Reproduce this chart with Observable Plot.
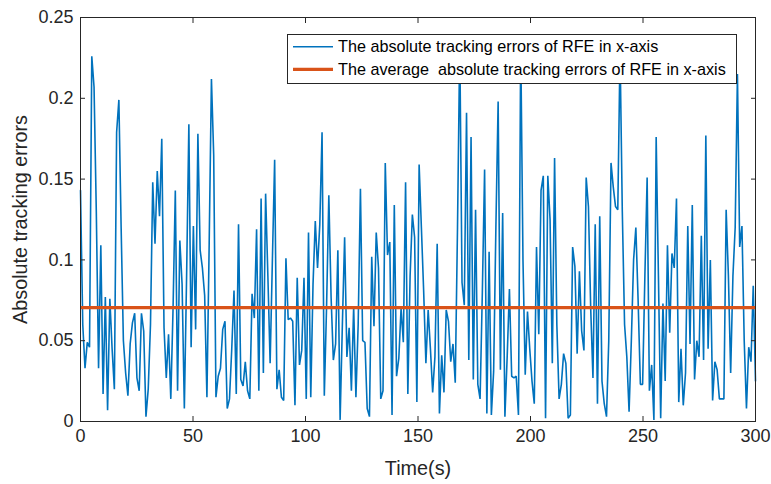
<!DOCTYPE html>
<html>
<head>
<meta charset="utf-8">
<script src="https://cdn.jsdelivr.net/npm/d3@7"></script>
<script src="https://cdn.jsdelivr.net/npm/@observablehq/plot@0.6"></script>
<style>
  html, body { margin: 0; padding: 0; background: #fff; }
  #wrap { position: relative; width: 771px; height: 484px; font-family: "Liberation Sans", Arial, Helvetica, sans-serif; }
  #legend { position: absolute; left: 287px; top: 34px; }
</style>
</head>
<body>
<div id="wrap">
  <div id="chart"></div>
  <svg id="legend" width="450" height="50"></svg>
</div>
<script>
// ---- data ----
const xTicks = [0, 50, 100, 150, 200, 250, 300];
const yTicks = [0, 0.05, 0.1, 0.15, 0.2, 0.25];
const yTickLabels = ["0", "0.05", "0.1", "0.15", "0.2", "0.25"];
const timeSpan = 300;               // seconds shown on the x-axis
const averageError = 0.0705;        // average absolute tracking error (orange line)
const errorSeriesName = "The absolute tracking errors of RFE in x-axis";
const averageSeriesName = "The average  absolute tracking errors of RFE in x-axis";
const absErrors = [
  0.143, 0.06, 0.033, 0.049, 0.046, 0.226, 0.207, 0.13, 0.033, 0.109,
  0.017, 0.077, 0.007, 0.076, 0.045, 0.020, 0.179, 0.199, 0.12, 0.05,
  0.03, 0.016, 0.048, 0.061, 0.067, 0.027, 0.019, 0.067, 0.056, 0.003,
  0.02, 0.06, 0.148, 0.110, 0.155, 0.127, 0.175, 0.058, 0.027, 0.054,
  0.014, 0.07, 0.143, 0.019, 0.112, 0.085, 0.008, 0.09, 0.184, 0.046,
  0.121, 0.057, 0.178, 0.106, 0.095, 0.078, 0.015, 0.11, 0.212, 0.165,
  0.015, 0.028, 0.033, 0.057, 0.062, 0.008, 0.014, 0.045, 0.081, 0.017,
  0.122, 0.026, 0.022, 0.037, 0.019, 0.014, 0.079, 0.064, 0.119, 0.019,
  0.138, 0.030, 0.141, 0.09, 0.036, 0.10, 0.162, 0.020, 0.032, 0.015,
  0.013, 0.101, 0.063, 0.064, 0.062, 0.010, 0.089, 0.035, 0.044, 0.089,
  0.014, 0.117, 0.015, 0.085, 0.124, 0.095, 0.122, 0.179, 0.016, 0.071,
  0.140, 0.077, 0.038, 0.048, 0.106, 0.001, 0.06, 0.114, 0.040, 0.058,
  0.019, 0.071, 0.015, 0.06, 0.144, 0.050, 0.049, 0.008, 0.003, 0.102,
  0.059, 0.117, 0.095, 0.014, 0.019, 0.160, 0.103, 0.111, 0.004, 0.134,
  0.028, 0.039, 0.07, 0.049, 0.148, 0.017, 0.09, 0.128, 0.114, 0.012,
  0.159, 0.12, 0.081, 0.036, 0.069, 0.045, 0.018, 0.040, 0.110, 0.005,
  0.041, 0.018, 0.069, 0.062, 0.037, 0.048, 0.024, 0.12, 0.235, 0.086,
  0.072, 0.191, 0.038, 0.176, 0.026, 0.131, 0.023, 0.014, 0.08, 0.156,
  0.005, 0.105, 0.004, 0.031, 0.12, 0.198, 0.032, 0.129, 0.003, 0.040,
  0.082, 0.028, 0.027, 0.028, 0.004, 0.235, 0.10, 0.029, 0.068, 0.045,
  0.025, 0.011, 0.108, 0.054, 0.143, 0.152, 0.002, 0.152, 0.125, 0.036,
  0.163, 0.06, 0.014, 0.023, 0.042, 0.036, 0.002, 0.004, 0.108, 0.096,
  0.042, 0.093, 0.056, 0.044, 0.151, 0.133, 0.07, 0.027, 0.122, 0.011,
  0.127, 0.025, 0.011, 0.003, 0.05, 0.160, 0.145, 0.133, 0.131, 0.23,
  0.13, 0.06, 0.04, 0.006, 0.05, 0.10, 0.120, 0.075, 0.023, 0.023,
  0.09, 0.151, 0.019, 0.035, 0.001, 0.176, 0.09, 0.002, 0.073, 0.025,
  0.109, 0.055, 0.104, 0.095, 0.138, 0.012, 0.045, 0.010, 0.03, 0.121,
  0.048, 0.134, 0.026, 0.05, 0.04, 0.115, 0.038, 0.177, 0.045, 0.100,
  0.013, 0.037, 0.032, 0.014, 0.014, 0.014, 0.131, 0.09, 0.030, 0.09,
  0.12, 0.215, 0.108, 0.121, 0.05, 0.008, 0.046, 0.037, 0.084, 0.025
];

const blue = "#0072BD";
const orange = "#D95319";
const axisColor = "#262626";
const step = timeSpan / (absErrors.length - 1);
const table = absErrors.map((v, i) => ({t: i * step, e: v}));

const chart = Plot.plot({
  width: 771,
  height: 484,
  marginLeft: 80,
  marginRight: 16,
  marginTop: 17,
  marginBottom: 63,
  style: {fontFamily: "'Liberation Sans', Arial, Helvetica, sans-serif", fontSize: "18px", color: axisColor, background: "#fff"},
  x: {domain: [0, timeSpan]},
  y: {domain: [0, 0.25]},
  marks: [
    Plot.lineY(table, {x: "t", y: "e", stroke: blue, strokeWidth: 1.6, strokeLinejoin: "miter"}),
    Plot.ruleY([averageError], {stroke: orange, strokeWidth: 3.2}),
    Plot.frame({stroke: axisColor, strokeWidth: 1}),
    // inward tick marks on all four sides
    Plot.axisX(xTicks, {anchor: "bottom", tickSize: -5, tickFormat: () => "", label: null, stroke: axisColor}),
    Plot.axisX(xTicks, {anchor: "top", tickSize: -5, tickFormat: () => "", label: null, stroke: axisColor}),
    Plot.axisY(yTicks, {anchor: "left", tickSize: -5, tickFormat: () => "", label: null, stroke: axisColor}),
    Plot.axisY(yTicks, {anchor: "right", tickSize: -5, tickFormat: () => "", label: null, stroke: axisColor}),
    // tick labels
    Plot.axisX(xTicks, {anchor: "bottom", tickSize: 0, tickPadding: 8, label: null, fill: axisColor, fontSize: 18}),
    Plot.axisY(yTicks, {anchor: "left", tickSize: 0, tickPadding: 7, label: null, fill: axisColor, fontSize: 18,
      tickFormat: (d) => yTickLabels[yTicks.indexOf(d)]}),
    // axis titles
    Plot.text(["Time(s)"], {frameAnchor: "bottom", dy: 53, lineAnchor: "bottom", fontSize: 19.8, fill: axisColor}),
    Plot.text(["Absolute tracking errors"], {frameAnchor: "left", dx: -60, rotate: -90, textAnchor: "middle", lineAnchor: "middle", fontSize: 19.8, fill: axisColor})
  ]
});
document.getElementById("chart").appendChild(chart);

// legend (drawn over the axes, as in the original)
const lg = d3.select("#legend");
lg.append("rect").attr("x", 0.5).attr("y", 0.5).attr("width", 449).attr("height", 49)
  .attr("fill", "#fff").attr("stroke", axisColor).attr("stroke-width", 1);
const items = [
  {name: errorSeriesName, color: blue, w: 1.5},
  {name: averageSeriesName, color: orange, w: 3.2}
];
items.forEach((it, i) => {
  const cy = 12.7 + i * 22.6;
  lg.append("line").attr("x1", 6).attr("x2", 46).attr("y1", cy).attr("y2", cy)
    .attr("stroke", it.color).attr("stroke-width", it.w);
  lg.append("text").attr("x", 51).attr("y", cy).attr("dy", "0.35em")
    .attr("font-family", "'Liberation Sans', Arial, Helvetica, sans-serif")
    .attr("font-size", 16.2).attr("fill", "#000")
    .style("white-space", "pre")
    .text(it.name);
});
</script>
</body>
</html>
